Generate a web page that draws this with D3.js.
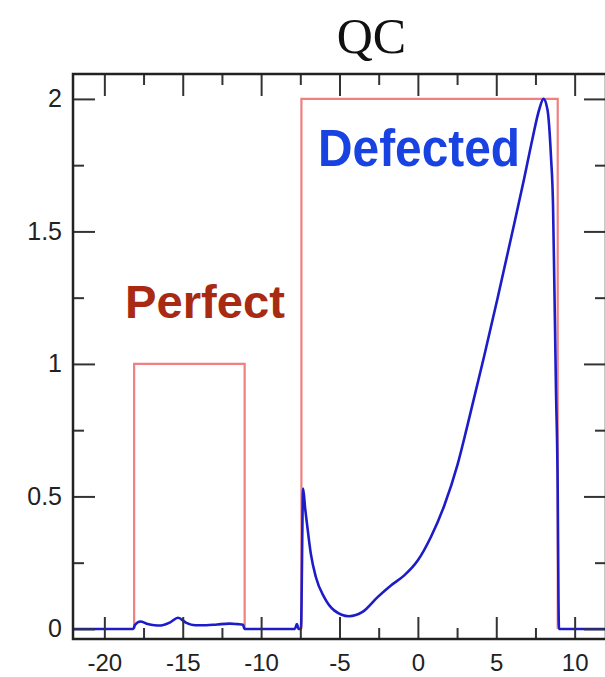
<!DOCTYPE html>
<html>
<head>
<meta charset="utf-8">
<script src="https://cdn.jsdelivr.net/npm/d3@7"></script>
<style>
  body { margin: 0; background: #fff; overflow: hidden; }
</style>
</head>
<body>
<div id="chart"></div>
<script>
// blue measured curve
const curveX = [-22, -18.15, -18.05, -17.7, -17.3, -16.8, -16.4, -15.8, -15.3, -14.8, -14.2, -13.5, -12.8, -12.0, -11.5, -11.15, -11.07,
  -7.85, -7.72, -7.6, -7.46, -7.32, -7.2, -7.05, -6.83, -6.51, -5.98, -5.34, -4.39, -3.53, -2.57, -1.72, -0.87, 0,
  0.83, 1.68, 2.53, 3.17, 4.23, 5.09, 6.0, 6.78, 7.31, 7.74, 8.01, 8.27, 8.49, 8.62, 8.71, 8.81, 8.92, 8.97, 9.0, 12];
const curveY = [0, 0, 0.015, 0.028, 0.02, 0.014, 0.013, 0.025, 0.042, 0.024, 0.014, 0.014, 0.017, 0.02, 0.018, 0.016, 0,
  0, 0.018, 0, 0, 0.53, 0.46, 0.385, 0.284, 0.196, 0.12, 0.07, 0.048, 0.064, 0.12, 0.164, 0.202, 0.259,
  0.347, 0.465, 0.62, 0.77, 1.03, 1.25, 1.49, 1.70, 1.85, 1.96, 2.0, 1.958, 1.782, 1.6, 1.28, 0.9, 0.52, 0.1, 0, 0];

// red reference boxes
const perfectBox = { x0: -18.1, x1: -11.05, h: 1 };
const defectBox = { x0: -7.43, x1: 8.92, h: 2 };

const xMajor = [-20, -15, -10, -5, 0, 5, 10];
const xMinor = [-17.5, -12.5, -7.5, -2.5, 2.5, 7.5];
const yMajor = [0, 0.5, 1, 1.5, 2];
const yMinor = [0.25, 0.75, 1.25, 1.75];

const width = 605;
const height = 677;
const plotLeft = 73, plotRight = 606, plotTop = 74, plotBottom = 639;

const x = d3.scaleLinear().domain([-22, 12]).range([plotLeft, plotRight]);
const y = d3.scaleLinear().domain([-0.038, 2.094]).range([plotBottom, plotTop]);

const svg = d3.select("#chart")
  .append("svg")
  .attr("width", width)
  .attr("height", height)
  .attr("viewBox", [0, 0, width, height]);

svg.append("text")
  .attr("x", 371.5)
  .attr("y", 53)
  .attr("text-anchor", "middle")
  .attr("font-family", "Liberation Serif, serif")
  .attr("font-size", 50)
  .attr("fill", "#111")
  .text("QC");

// red boxes
const boxLine = (b) => d3.line()
  .x((d) => x(d[0]))
  .y((d) => y(d[1]))([[b.x0, 0], [b.x0, b.h], [b.x1, b.h], [b.x1, 0]]);

[perfectBox, defectBox].forEach((b) => {
  svg.append("path")
    .attr("d", boxLine(b))
    .attr("fill", "none")
    .attr("stroke", "#f07f7f")
    .attr("stroke-width", 2.2);
});

const pts = curveX.map((v, i) => [v, curveY[i]]);
svg.append("path")
  .datum(pts)
  .attr("fill", "none")
  .attr("stroke", "#1c1cc8")
  .attr("stroke-width", 2.6)
  .attr("stroke-linejoin", "round")
  .attr("d", d3.line().x((d) => x(d[0])).y((d) => y(d[1])).curve(d3.curveMonotoneX));

svg.append("text")
  .attr("x", 125)
  .attr("y", 318)
  .attr("font-family", "Liberation Sans, Arial, sans-serif")
  .attr("font-weight", "bold")
  .attr("font-size", 46)
  .attr("textLength", 160)
  .attr("lengthAdjust", "spacingAndGlyphs")
  .attr("fill", "#a82a12")
  .text("Perfect");

svg.append("text")
  .attr("x", 318)
  .attr("y", 166)
  .attr("font-family", "Liberation Sans, Arial, sans-serif")
  .attr("font-weight", "bold")
  .attr("font-size", 51)
  .attr("textLength", 202)
  .attr("lengthAdjust", "spacingAndGlyphs")
  .attr("fill", "#1842e2")
  .text("Defected");

// axes: ticks drawn inward on all four sides
const tickColor = "#333";
const axisFont = "Liberation Sans, Arial, sans-serif";

svg.append("g")
  .attr("transform", `translate(0,${plotBottom})`)
  .call(d3.axisBottom(x).tickValues(xMajor).tickSize(-22).tickPadding(32).tickFormat((d) => String(d)))
  .call((g) => g.select(".domain").remove())
  .call((g) => g.selectAll("line").attr("stroke", tickColor).attr("stroke-width", 2))
  .call((g) => g.selectAll("text").attr("font-family", axisFont).attr("font-size", 24).attr("fill", "#222").attr("dy", "0"));

svg.append("g")
  .attr("transform", `translate(0,${plotBottom})`)
  .call(d3.axisBottom(x).tickValues(xMinor).tickSize(-11).tickFormat(""))
  .call((g) => g.select(".domain").remove())
  .call((g) => g.selectAll("line").attr("stroke", tickColor).attr("stroke-width", 2));

svg.append("g")
  .attr("transform", `translate(0,${plotTop})`)
  .call(d3.axisTop(x).tickValues(xMajor).tickSize(-22).tickFormat(""))
  .call((g) => g.select(".domain").remove())
  .call((g) => g.selectAll("line").attr("stroke", tickColor).attr("stroke-width", 2));

svg.append("g")
  .attr("transform", `translate(0,${plotTop})`)
  .call(d3.axisTop(x).tickValues(xMinor).tickSize(-11).tickFormat(""))
  .call((g) => g.select(".domain").remove())
  .call((g) => g.selectAll("line").attr("stroke", tickColor).attr("stroke-width", 2));

svg.append("g")
  .attr("transform", `translate(${plotLeft},0)`)
  .call(d3.axisLeft(y).tickValues(yMajor).tickSize(-22).tickPadding(11).tickFormat((d) => String(d)))
  .call((g) => g.select(".domain").remove())
  .call((g) => g.selectAll("line").attr("stroke", tickColor).attr("stroke-width", 2))
  .call((g) => g.selectAll("text").attr("font-family", axisFont).attr("font-size", 25).attr("fill", "#222"));

svg.append("g")
  .attr("transform", `translate(${plotLeft},0)`)
  .call(d3.axisLeft(y).tickValues(yMinor).tickSize(-11).tickFormat(""))
  .call((g) => g.select(".domain").remove())
  .call((g) => g.selectAll("line").attr("stroke", tickColor).attr("stroke-width", 2));

svg.append("g")
  .attr("transform", `translate(${plotRight},0)`)
  .call(d3.axisRight(y).tickValues(yMajor).tickSize(-22).tickFormat(""))
  .call((g) => g.select(".domain").remove())
  .call((g) => g.selectAll("line").attr("stroke", tickColor).attr("stroke-width", 2));

svg.append("g")
  .attr("transform", `translate(${plotRight},0)`)
  .call(d3.axisRight(y).tickValues(yMinor).tickSize(-11).tickFormat(""))
  .call((g) => g.select(".domain").remove())
  .call((g) => g.selectAll("line").attr("stroke", tickColor).attr("stroke-width", 2));

// frame
svg.append("rect")
  .attr("x", plotLeft)
  .attr("y", plotTop)
  .attr("width", plotRight - plotLeft)
  .attr("height", plotBottom - plotTop)
  .attr("fill", "none")
  .attr("stroke", "#222")
  .attr("stroke-width", 2.5);
</script>
</body>
</html>
